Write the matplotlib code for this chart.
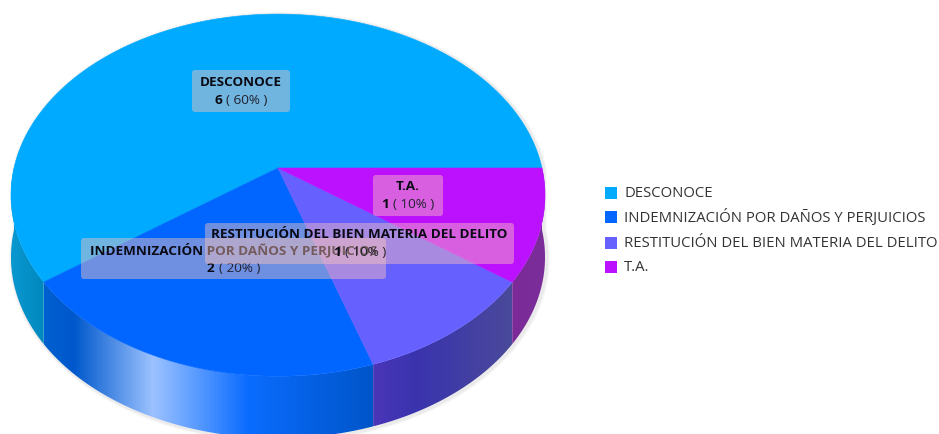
import numpy as np
import matplotlib
matplotlib.use("Agg")
import matplotlib.pyplot as plt
from matplotlib.patches import Polygon, Rectangle, FancyBboxPatch
from matplotlib.colors import LinearSegmentedColormap

categories = ["DESCONOCE", "INDEMNIZACIÓN POR DAÑOS Y PERJUICIOS",
              "RESTITUCIÓN DEL BIEN MATERIA DEL DELITO", "T.A."]
values = [6, 2, 1, 1]
percents = ["60%", "20%", "10%", "10%"]
top_colors = ["#00AAFF", "#0066FF", "#6660FF", "#BB11FF"]
side_stops = [
    [(0.0, "#0A98D0"), (1.0, "#0088BE")],
    [(0.0, "#0060D0"), (0.09, "#0058CC"), (0.33, "#9CC2FF"), (0.62, "#0A6CFF"), (1.0, "#0055C8")],
    [(0.0, "#4A36B8"), (0.3, "#3A33AE"), (1.0, "#4A4A9A")],
    [(0.0, "#7C2A98"), (1.0, "#7A2E9A")],
]
label_boxes = [(192, 70, 290, 112), (81, 238, 386, 279), (205, 223, 514, 264), (373, 175, 443, 216)]
legend_y = [193, 217, 243, 267]

CX, CY, RX, RY, PERSP, DEPTH = 278, 168, 264, 177, 0.15, 62
FONT = "Open Sans"
plt.rcParams["font.family"] = [FONT, "DejaVu Sans"]

fig = plt.figure(figsize=(9.39, 4.34), dpi=100)
ax = fig.add_axes([0, 0, 1, 1])
ax.set_xlim(0, 939)
ax.set_ylim(434, 0)
ax.axis("off")


def project(deg):
    t = np.radians(np.asarray(deg, dtype=float))
    X, Y = np.cos(t), np.sin(t)
    s = 1 / (1 + PERSP * Y)
    return np.column_stack([CX + RX * X * s, CY - RY * Y * s])


edges = np.concatenate([[0], np.cumsum(values)]) / sum(values) * 360

# soft shadow around the silhouette
front = project(np.linspace(180, 360, 181)) + [0, DEPTH]
outline = np.vstack([project(np.linspace(0, 180, 181)), front])
for lw, a in zip((5, 3), (0.04, 0.08)):
    ax.add_patch(Polygon(outline + [1.5, 1], closed=True, fc="none", ec="#555555", lw=lw, alpha=a, zorder=1))

# extruded side
for i in range(len(values)):
    a0, a1 = edges[i], edges[i + 1]
    a0 = max(a0, 180)
    if a1 <= 180:
        continue
    rim = project(np.linspace(a0, a1, 90))
    poly = np.vstack([rim, (rim + [0, DEPTH])[::-1]])
    patch = Polygon(poly, closed=True, fc="none", ec="none", zorder=2)
    ax.add_patch(patch)
    cmap = LinearSegmentedColormap.from_list(f"s{i}", side_stops[i])
    x0, x1 = poly[:, 0].min(), poly[:, 0].max()
    im = ax.imshow(np.linspace(0, 1, 256)[None, :], cmap=cmap, vmin=0, vmax=1, aspect="auto",
                   extent=(x0, x1, poly[:, 1].max(), poly[:, 1].min()), zorder=2)
    im.set_clip_path(patch)
ax.set_xlim(0, 939)
ax.set_ylim(434, 0)

# top face
for i in range(len(values)):
    arc = project(np.linspace(edges[i], edges[i + 1], 240))
    ax.add_patch(Polygon(np.vstack([[CX, CY], arc]), closed=True, fc=top_colors[i],
                         ec=top_colors[i], lw=0.4, zorder=3))

# labels
renderer = fig.canvas.get_renderer()
for i, (x0, y0, x1, y1) in enumerate(label_boxes):
    ax.add_patch(FancyBboxPatch((x0 + 3, y0 + 3), x1 - x0 - 6, y1 - y0 - 6,
                                boxstyle="round,pad=3,rounding_size=3", fc="#FEC4BA", ec="none",
                                alpha=0.44, zorder=4 + i * 0.1))
    xc = (x0 + x1) / 2
    z = 4.05 + i * 0.1
    ax.text(xc, y0 + 12, categories[i], ha="center", va="center", fontsize=9.7,
            fontweight="bold", color="#0A0A14", zorder=z)
    t1 = ax.text(0, y0 + 30, str(values[i]), ha="left", va="center", fontsize=9.7,
                 fontweight="bold", color="#0A0A14", zorder=z)
    t2 = ax.text(0, y0 + 30, f"( {percents[i]} )", ha="left", va="center", fontsize=9.7,
                 color="#222230", zorder=z)
    w1 = t1.get_window_extent(renderer).width
    w2 = t2.get_window_extent(renderer).width
    t1.set_x(xc - (w1 + w2 + 4) / 2)
    t2.set_x(xc - (w1 + w2 + 4) / 2 + w1 + 4)

# legend
for c, name, y in zip(top_colors, categories, legend_y):
    ax.add_patch(Rectangle((605, y - 6), 12, 12, fc=c, ec="none", zorder=5))
    ax.text(624, y + 0.5, name, ha="left", va="center", fontsize=10.7, color="#333333", zorder=5)

fig.savefig("out.png", dpi=100)
